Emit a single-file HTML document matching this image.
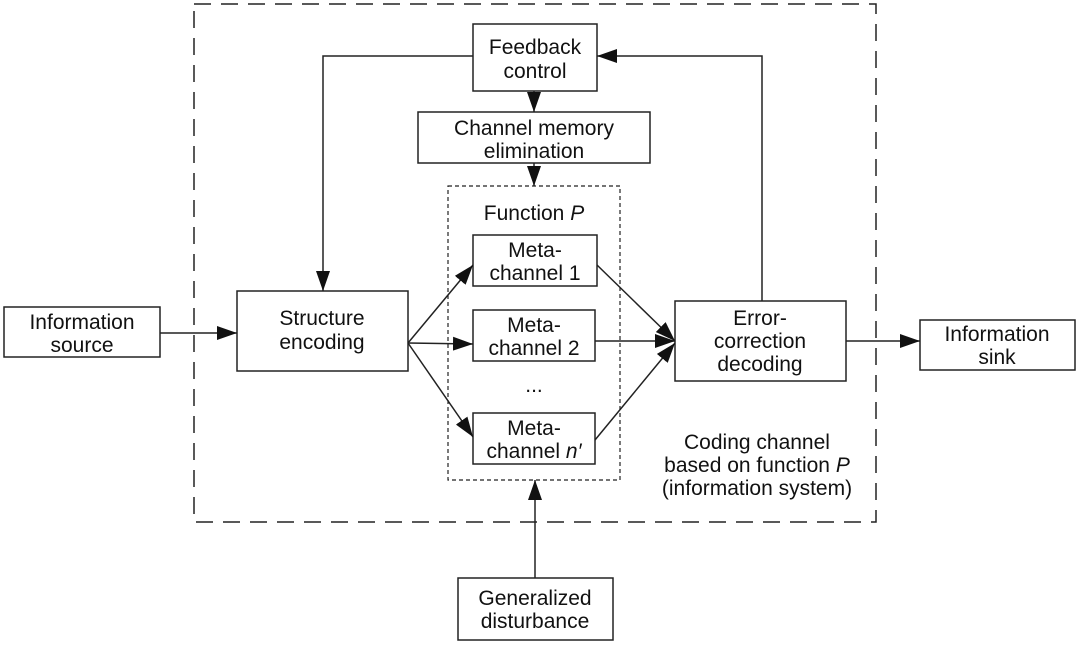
<!DOCTYPE html>
<html><head><style>
body{margin:0;background:#fff;}
svg text{font-family:"Liberation Sans",Arial,sans-serif;font-size:21px;fill:#111;text-anchor:middle;}
</style></head><body>
<svg width="1080" height="647" viewBox="0 0 1080 647" xmlns="http://www.w3.org/2000/svg">
<defs><marker id="b" markerWidth="20" markerHeight="14" refX="20" refY="7" orient="auto" markerUnits="userSpaceOnUse"><path d="M0,0 L20,7 L0,14 z" fill="#111"/></marker></defs>
<g fill="none" stroke="#222" stroke-width="1.5">
<rect x="194" y="4" width="682" height="518" stroke-dasharray="17,10"/>
<rect x="448" y="186" width="172" height="294" stroke-dasharray="4,3" stroke-width="1.2"/>
<rect x="473" y="24" width="124" height="67"/>
<rect x="418" y="112" width="232" height="51"/>
<rect x="473" y="235" width="124" height="51"/>
<rect x="473" y="310" width="122" height="51"/>
<rect x="473" y="413" width="122" height="51"/>
<rect x="675" y="301" width="171" height="80"/>
<rect x="237" y="291" width="171" height="80"/>
<rect x="4" y="307" width="156" height="50"/>
<rect x="920" y="320" width="155" height="50"/>
<rect x="458" y="578" width="155" height="62"/>
<polyline points="473,56 323,56 323,291" marker-end="url(#b)"/>
<polyline points="762,301 762,56 597,56" marker-end="url(#b)"/>
<line x1="534" y1="91" x2="534" y2="112" marker-end="url(#b)"/>
<line x1="534" y1="163" x2="534" y2="186" marker-end="url(#b)"/>
<line x1="535" y1="578" x2="535" y2="480" marker-end="url(#b)"/>
<line x1="160" y1="333" x2="237" y2="333" marker-end="url(#b)"/>
<line x1="846" y1="341" x2="920" y2="341" marker-end="url(#b)"/>
<line x1="408" y1="343" x2="473" y2="265" marker-end="url(#b)"/>
<line x1="408" y1="343" x2="473" y2="344" marker-end="url(#b)"/>
<line x1="408" y1="343" x2="473" y2="437" marker-end="url(#b)"/>
<line x1="597" y1="265" x2="675" y2="341" marker-end="url(#b)"/>
<line x1="595" y1="341" x2="675" y2="341" marker-end="url(#b)"/>
<line x1="595" y1="440" x2="675" y2="343" marker-end="url(#b)"/>
</g>
<text x="535" y="54">Feedback</text><text x="535" y="78">control</text>
<text x="534" y="135">Channel memory</text><text x="534" y="158">elimination</text>
<text x="534" y="220">Function <tspan font-style="italic">P</tspan></text>
<text x="535" y="257">Meta-</text><text x="535" y="280">channel 1</text>
<text x="534" y="332">Meta-</text><text x="534" y="355">channel 2</text>
<text x="534" y="392" font-size="14">...</text>
<text x="534" y="435">Meta-</text><text x="534" y="458">channel <tspan font-style="italic">n′</tspan></text>
<text x="760" y="325">Error-</text><text x="760" y="348">correction</text><text x="760" y="371">decoding</text>
<text x="322" y="325">Structure</text><text x="322" y="349">encoding</text>
<text x="82" y="329">Information</text><text x="82" y="352">source</text>
<text x="997" y="341">Information</text><text x="997" y="364">sink</text>
<text x="535" y="605">Generalized</text><text x="535" y="628">disturbance</text>
<text x="757" y="449">Coding channel</text>
<text x="757" y="472">based on function <tspan font-style="italic">P</tspan></text>
<text x="757" y="495">(information system)</text>
</svg>
</body></html>
